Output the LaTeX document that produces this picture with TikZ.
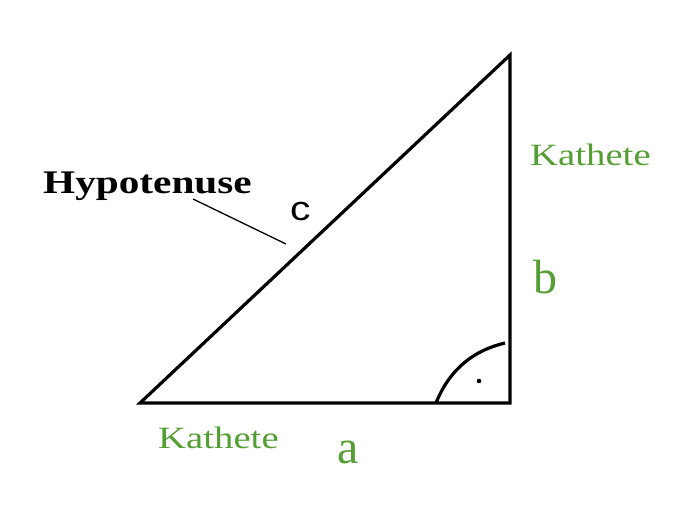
\documentclass[tikz,border=0pt]{standalone}
\usepackage{fontspec}
\setmainfont{Liberation Serif}
\newfontfamily\kfont[FakeStretch=1.25]{Liberation Serif}
\newfontfamily\hfont[FakeStretch=1.25]{Liberation Serif}
\newfontfamily\cfont[FakeStretch=1.2]{Liberation Sans}
\definecolor{kgreen}{RGB}{84,158,52}
\begin{document}
\begin{tikzpicture}[x=1pt,y=-1pt,
  lbl/.style={inner sep=0pt,anchor=base west},
  kat/.style={lbl,text=kgreen,font=\kfont\fontsize{31}{31}\selectfont},
  side/.style={lbl,text=kgreen,font=\fontsize{48}{48}\selectfont},
  edge/.style={line width=3.2pt,line join=miter}]
\useasboundingbox (0,0) rectangle (696,509);
\coordinate (A) at (140,403);
\coordinate (B) at (510,403);
\coordinate (C) at (510,55);
\draw[edge] (A) -- (B) -- (C) -- cycle;
\coordinate (arcS) at (436,403);
\coordinate (arcE) at (505,343);
\draw[line width=3.2pt] (arcS) .. controls (450,368) and (475,350) .. (arcE);
\fill (479,381) circle (2.3);
\node[lbl,font=\hfont\bfseries\fontsize{33}{33}\selectfont] (hyp) at (43,193) {Hypotenuse};
\coordinate (l1) at (193,199);
\coordinate (l2) at (286,244);
\draw[line width=1.3pt] (l1) -- (l2);
\node[lbl,font=\cfont\fontsize{34}{34}\selectfont] (c) at (290,220) {c};
\node[kat] (k1) at (530,165) {Kathete};
\node[kat] (k2) at (158,448) {Kathete};
\node[side] (a) at (337,463) {a};
\node[side] (b) at (533,293) {b};
\end{tikzpicture}
\end{document}
